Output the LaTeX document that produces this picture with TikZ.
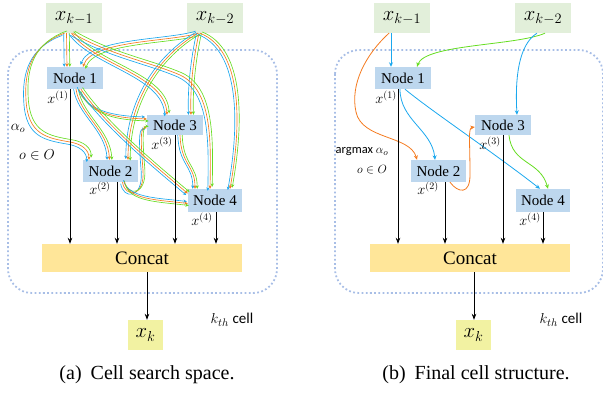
\documentclass[tikz,border=0pt]{standalone}
\usepackage{fontspec}
\setmainfont{Liberation Serif}
\setsansfont{Carlito}
\usetikzlibrary{arrows.meta,calc}

\definecolor{cblue}{HTML}{1BA8EE}
\definecolor{corange}{HTML}{F47B20}
\definecolor{cgreen}{HTML}{66DD22}
\definecolor{inbox}{HTML}{E2EFDA}
\definecolor{nodebox}{HTML}{BDD7EE}
\definecolor{catbox}{HTML}{FFE699}
\definecolor{outbox}{HTML}{F2F2A2}
\definecolor{cellline}{HTML}{A8BEE6}

\tikzset{
  inp/.style={fill=inbox, minimum width=56pt, minimum height=30pt, inner sep=0pt, font=\fontsize{22}{24}\selectfont},
  mid/.style={fill=nodebox, minimum width=56pt, minimum height=22pt, inner sep=0pt, font=\rmfamily\fontsize{15}{17}\selectfont},
  cat/.style={fill=catbox, minimum width=200pt, minimum height=28pt, inner sep=0pt, font=\rmfamily\fontsize{19}{21}\selectfont},
  outp/.style={fill=outbox, minimum width=35pt, minimum height=30pt, inner sep=0pt, font=\fontsize{22}{24}\selectfont},
  cellframe/.style={draw=cellline, line width=1.8pt, dash pattern=on 1.8pt off 2.4pt, rounded corners=24pt},
  tri/.style={line width=0.65pt, -{Stealth[length=3.4pt,width=3.2pt]}},
  single/.style={line width=0.8pt, -{Stealth[length=4.5pt,width=4pt]}},
  feed/.style={black, line width=0.7pt, -{Stealth[length=6pt,width=4.5pt]}},
  lab/.style={inner sep=0pt, font=\fontsize{14.5}{16}\selectfont},
  side/.style={inner sep=0pt, font=\fontsize{15}{17}\selectfont},
  capt/.style={inner sep=0pt, font=\rmfamily\fontsize{20}{22}\selectfont},
}

% one mixed-operation edge: the same path in blue, orange and green, offset by (#1,#2)
\newcommand\threeway[3]{%
  \foreach \col/\k in {cblue/-1,corange/0,cgreen/1}{%
    \draw[tri, draw=\col, transform canvas={shift={({(\k)*(#1)},{(\k)*(#2)})}}] #3;}}

\begin{document}
\begin{tikzpicture}[x=1pt,y=-1pt]
\useasboundingbox (0,0) rectangle (603,394);

% ---------------- left: search space ----------------
\draw[cellframe] (8,50) rectangle (277,293);

\node[inp]  (xk1a) at (74,18) {$x_{k-1}$};
\node[inp]  (xk2a) at (215,18)  {$x_{k-2}$};
\node[mid]  (n1a)  at (75,78)   {Node 1};
\node[mid, minimum height=20pt] (n3a) at (175,125) {Node 3};
\node[mid, minimum width=55pt]  (n2a) at (110.5,171) {Node 2};
\node[mid, minimum width=54pt, minimum height=23pt] (n4a) at (215,200.5) {Node 4};
\node[cat]  (ca)   at (142,258) {Concat};
\node[outp] (xka)  at (145.5,335) {$x_k$};

% inputs of node 1
\threeway{2.8}{0}{([xshift=-7.5pt]xk1a.south) -- ([xshift=-8pt]n1a.north)}
\threeway{2.4}{2}{([xshift=-17pt]xk2a.south) .. controls (170,42) and (92,40) .. ([xshift=8pt]n1a.north)}
% inputs of node 2
\threeway{2.2}{-2.2}{([xshift=-9.5pt]xk1a.south) .. controls (32,45) and (24,70) .. (26,100) .. controls (28,135) and (47,138) .. (70,142) .. controls (82,144) and (89,150) .. ([xshift=-21.5pt]n2a.north)}
\threeway{2.4}{0}{([xshift=1pt]n1a.south) .. controls (80,115) and (108,130) .. ([xshift=-1pt]n2a.north)}
\threeway{2.2}{0.8}{([xshift=-17pt]xk2a.south) .. controls (160,55) and (128,100) .. ([xshift=17.5pt]n2a.north)}
% inputs of node 3
\threeway{2.2}{-1.5}{([xshift=-2.5pt]xk1a.south) .. controls (95,65) and (165,75) .. ([xshift=-8pt]n3a.north)}
\threeway{2.5}{0}{([xshift=-16pt]xk2a.south) .. controls (193,60) and (190,90) .. ([xshift=16pt]n3a.north)}
\threeway{1.8}{2}{([xshift=4pt]n1a.south) .. controls (88,115) and (120,118) .. ([yshift=6pt]n3a.west)}
\threeway{1.8}{-1.5}{([xshift=12pt]n2a.south) .. controls (125,198) and (145,198) .. (143,170) .. controls (141,145) and (140,127) .. ([yshift=-3pt]n3a.west)}
% inputs of node 4
\threeway{2.2}{-2}{([xshift=-1.5pt]xk1a.south) .. controls (110,55) and (150,62) .. (180,75) .. controls (212,90) and (211,140) .. ([xshift=-5pt]n4a.north)}
\threeway{2.2}{-1.2}{([xshift=-15pt]xk2a.south) .. controls (238,48) and (244,110) .. ([xshift=15pt]n4a.north)}
\threeway{1.6}{-1.6}{([xshift=6pt]n1a.south) .. controls (105,125) and (160,170) .. ([yshift=7pt]n4a.west)}
\threeway{1}{2}{([xshift=14pt]n2a.south) .. controls (128,200) and (160,200) .. ([yshift=-3pt]n4a.west)}
\threeway{2.2}{0}{([xshift=5pt]n3a.south) .. controls (181,165) and (195,165) .. ([xshift=-20pt]n4a.north)}

% node outputs into concat
\coordinate (f1a) at ([xshift=-5pt]n1a.south);
\coordinate (f2a) at ([xshift=6.5pt]n2a.south);
\coordinate (f3a) at (n3a.south);
\coordinate (f4a) at ([xshift=1pt]n4a.south);
\foreach \f in {f1a,f2a,f3a,f4a} \draw[feed] (\f) -- (\f |- ca.north);
\coordinate (oa) at ([xshift=1.5pt]xka.north);
\draw[feed] (oa |- ca.south) -- (oa);

\node[lab] (l1a) at (58,97)  {$x^{(1)}$};
\node[lab] (l2a) at (100,188) {$x^{(2)}$};
\node[lab] (l3a) at (162,143) {$x^{(3)}$};
\node[lab] (l4a) at (202,219) {$x^{(4)}$};
\node[inner sep=0pt, font=\fontsize{14}{16}\selectfont] (alphaa) at (18,128) {$\alpha_o$};
\node[inner sep=0pt, font=\fontsize{15}{17}\selectfont] (seta) at (37,155) {$o\in O$};
\node[side] (cella) at (232,320) {$k_{th}$ \sffamily cell};
\node[capt] (capa) at (147,375) {(a)\hspace{0.45em}Cell search space.};

% ---------------- right: final cell ----------------
\draw[cellframe] (335,50) rectangle (603,293);

\node[inp]  (xk1b) at (402,18) {$x_{k-1}$};
\node[inp]  (xk2b) at (543,18)   {$x_{k-2}$};
\node[mid]  (n1b)  at (403,78)   {Node 1};
\node[mid, minimum height=20pt] (n3b) at (503,125) {Node 3};
\node[mid, minimum width=55pt]  (n2b) at (438.5,171) {Node 2};
\node[mid, minimum width=54pt, minimum height=23pt] (n4b) at (543,200.5) {Node 4};
\node[cat]  (cb)   at (470,258) {Concat};
\node[outp] (xkb)  at (473.5,335) {$x_k$};

\draw[single, draw=cblue] ([xshift=-11pt]xk1b.south) -- ([xshift=-12pt]n1b.north);
\draw[single, draw=cgreen] ([xshift=2pt]xk2b.south) .. controls (515,46) and (425,44) .. ([xshift=14pt]n1b.north);
\draw[single, draw=cblue] ([xshift=-6pt]xk2b.south) .. controls (518,45) and (515,80) .. ([xshift=14pt]n3b.north);
\draw[single, draw=corange] ([xshift=-13pt]xk1b.south) .. controls (365,55) and (350,85) .. (356,112) .. controls (362,140) and (410,135) .. ([xshift=-21.5pt]n2b.north);
\draw[single, draw=cblue] ([xshift=-3pt]n1b.south) .. controls (400,120) and (432,130) .. ([xshift=-3.5pt]n2b.north);
\draw[single, draw=cblue] ([xshift=2pt]n1b.south) .. controls (430,110) and (490,150) .. ([xshift=-3pt]n4b.north);
\draw[single, draw=corange] ([xshift=11.5pt]n2b.south) .. controls (458,193) and (470,195) .. (470,175) .. controls (470,140) and (468,128) .. ([yshift=-2pt]n3b.west);
\draw[single, draw=cgreen] ([xshift=6pt]n3b.south) .. controls (512,165) and (540,160) .. ([xshift=5pt]n4b.north);

\coordinate (f1b) at ([xshift=-5pt]n1b.south);
\coordinate (f2b) at ([xshift=6.5pt]n2b.south);
\coordinate (f3b) at (n3b.south);
\coordinate (f4b) at (n4b.south);
\foreach \f in {f1b,f2b,f3b,f4b} \draw[feed] (\f) -- (\f |- cb.north);
\coordinate (ob) at ([xshift=0.5pt]xkb.north);
\draw[feed] (ob |- cb.south) -- (ob);

\node[lab] (l1b) at (386,97)  {$x^{(1)}$};
\node[lab] (l2b) at (428,188) {$x^{(2)}$};
\node[lab] (l3b) at (490,143) {$x^{(3)}$};
\node[lab] (l4b) at (530,219) {$x^{(4)}$};
\node[inner sep=0pt, font=\fontsize{12.5}{14}\selectfont] (argb) at (362,152) {\sffamily argmax $\alpha_o$};
\node[inner sep=0pt, font=\fontsize{13}{15}\selectfont] (setb) at (372,170) {$o\in O$};
\node[side] (cellb) at (561,320) {$k_{th}$ \sffamily cell};
\node[capt] (capb) at (476,375) {(b)\hspace{0.45em}Final cell structure.};
\end{tikzpicture}
\end{document}
